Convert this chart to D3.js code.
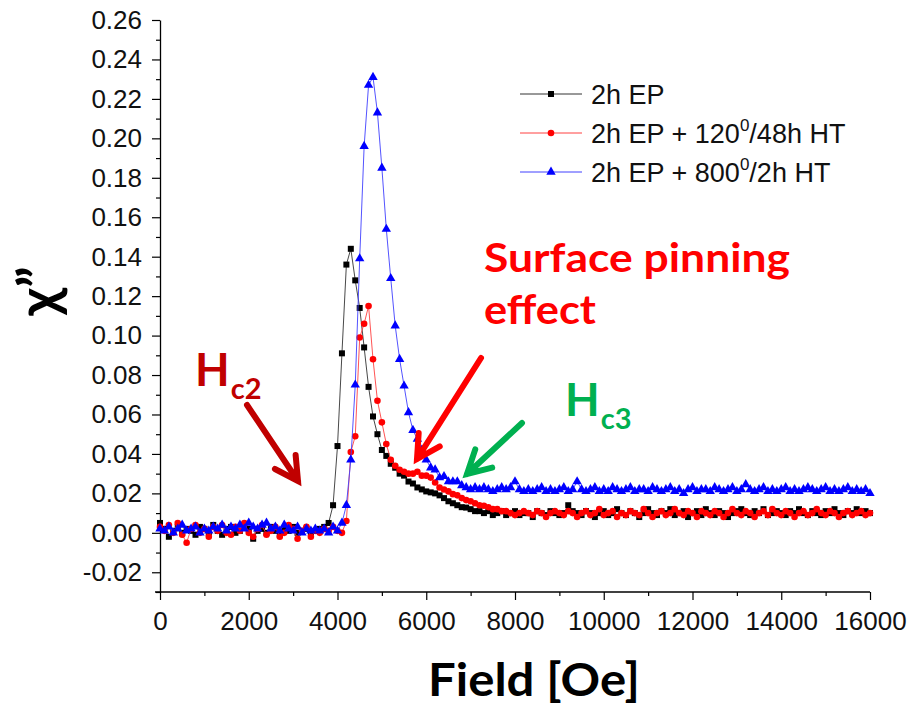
<!DOCTYPE html>
<html><head><meta charset="utf-8">
<script src="https://cdn.jsdelivr.net/npm/d3@7"></script>
<style>body{margin:0;background:#fff;} svg{display:block;}</style>
</head><body>
<svg id="c" width="922" height="708"></svg>
<script>
// ---------- DATA ----------
const fields = d3.range(0, 16001, 100); // Field [Oe]
const seriesNames = ["2h EP", "2h EP + 120|0|/48h HT", "2h EP + 800|0|/2h HT"];
const ep = [
 0.005,0.002,-0.002,0.001,0.003,0.000,0.002,0.001,-0.001,0.003,
 0.002,0.000,0.004,0.001,-0.001,0.002,0.003,0.000,0.001,0.004,
 0.002,-0.003,0.001,0.002,0.000,0.003,0.001,-0.001,0.002,0.001,
 0.003,0.000,0.001,0.002,0.000,0.001,0.002,0.003,0.005,0.014,
 0.044,0.091,0.136,0.144,0.128,0.114,0.094,0.074,0.059,0.050,
 0.042,0.039,0.035,0.033,0.030,0.029,0.026,0.025,0.023,0.022,
 0.021,0.0205,0.020,0.019,0.0176,0.016,0.015,0.014,0.013,0.0128,
 0.012,0.011,0.011,0.010,0.011,0.009,0.010,0.011,0.009,0.010,
 0.011,0.009,0.010,0.010,0.008,0.011,0.010,0.009,0.011,0.010,
 0.009,0.010,0.014,0.011,0.010,0.009,0.011,0.010,0.008,0.010,
 0.011,0.009,0.010,0.012,0.010,0.009,0.011,0.010,0.008,0.010,
 0.012,0.010,0.009,0.011,0.010,0.012,0.009,0.010,0.011,0.008,
 0.010,0.011,0.009,0.012,0.010,0.009,0.011,0.010,0.008,0.010,
 0.011,0.012,0.010,0.009,0.011,0.010,0.012,0.009,0.010,0.011,
 0.010,0.009,0.011,0.010,0.012,0.010,0.009,0.011,0.010,0.009,
 0.011,0.010,0.012,0.010,0.009,0.011,0.010,0.012,0.010,0.011,
 0.010
];
const ep120 = [
 0.003,0.001,0.004,0.000,0.005,-0.001,-0.005,0.002,0.004,0.000,
 0.002,-0.002,0.003,0.001,0.004,0.000,-0.001,0.003,0.001,0.005,
 0.000,-0.002,0.002,0.004,-0.001,0.001,0.003,-0.002,0.000,0.004,
 0.002,-0.003,0.001,0.003,-0.002,0.001,0.000,0.002,0.001,0.003,
 0.001,0.000,0.006,0.041,0.049,0.099,0.106,0.115,0.088,0.067,
 0.056,0.045,0.037,0.034,0.032,0.031,0.030,0.030,0.031,0.029,
 0.029,0.028,0.0255,0.023,0.022,0.021,0.0196,0.019,0.0176,0.0166,
 0.016,0.015,0.014,0.0137,0.013,0.012,0.012,0.011,0.011,0.010,
 0.009,0.010,0.011,0.010,0.009,0.011,0.010,0.008,0.010,0.011,
 0.010,0.009,0.011,0.010,0.008,0.010,0.011,0.009,0.010,0.012,
 0.009,0.010,0.011,0.008,0.010,0.009,0.011,0.010,0.009,0.012,
 0.010,0.008,0.010,0.011,0.009,0.010,0.012,0.010,0.009,0.011,
 0.010,0.008,0.011,0.010,0.009,0.011,0.010,0.008,0.010,0.012,
 0.010,0.009,0.011,0.010,0.008,0.010,0.011,0.009,0.012,0.010,
 0.009,0.011,0.010,0.008,0.010,0.011,0.009,0.010,0.012,0.010,
 0.009,0.011,0.010,0.008,0.010,0.011,0.009,0.010,0.011,0.009,
 0.010
];
const ep800 = [
 0.002,0.001,0.003,0.000,0.002,0.004,0.001,0.002,0.003,0.000,
 0.002,0.001,0.003,0.002,0.004,0.001,0.003,0.002,0.004,0.002,
 0.005,0.003,0.002,0.004,0.005,0.002,0.003,0.001,0.004,0.002,
 0.001,0.003,0.000,0.002,0.001,0.002,0.001,0.002,0.000,0.003,
 0.001,0.005,0.014,0.037,0.075,0.139,0.196,0.227,0.231,0.213,
 0.185,0.154,0.129,0.105,0.088,0.0745,0.061,0.052,0.0475,0.042,
 0.037,0.033,0.032,0.028,0.0286,0.026,0.026,0.026,0.024,0.023,
 0.022,0.023,0.022,0.023,0.022,0.021,0.022,0.023,0.022,0.023,
 0.026,0.022,0.021,0.022,0.021,0.022,0.023,0.021,0.022,0.021,
 0.022,0.023,0.021,0.022,0.026,0.022,0.021,0.022,0.023,0.021,
 0.022,0.021,0.023,0.022,0.021,0.022,0.023,0.021,0.022,0.022,
 0.021,0.023,0.022,0.021,0.022,0.023,0.021,0.022,0.020,0.022,
 0.023,0.021,0.022,0.022,0.021,0.023,0.022,0.021,0.022,0.023,
 0.021,0.022,0.0245,0.022,0.021,0.022,0.023,0.021,0.022,0.021,
 0.022,0.023,0.021,0.022,0.021,0.022,0.023,0.022,0.021,0.022,
 0.023,0.021,0.022,0.021,0.022,0.023,0.021,0.022,0.021,0.022,
 0.020
];
const xMajorTicks = [0,2000,4000,6000,8000,10000,12000,14000,16000];
const yMajorTicks = [-0.02,0.00,0.02,0.04,0.06,0.08,0.10,0.12,0.14,0.16,0.18,0.20,0.22,0.24,0.26];

// ---------- CHART ----------
const svg = d3.select("#c");
const x = d3.scaleLinear().domain([0,16000]).range([160,870]);
const y = d3.scaleLinear().domain([-0.03,0.26]).range([592,20]);
const tickFont = "'Liberation Sans', Arial, sans-serif";
const fmt = d => d3.format(".2f")(d).replace("\u2212","-");

// y axis minor
svg.append("g").attr("transform","translate(160,0)")
  .call(d3.axisLeft(y).tickValues(d3.range(-3,27,2).map(v=>v/100)).tickSize(4).tickFormat(""))
  .call(g=>g.select(".domain").remove())
  .selectAll("line").attr("stroke","#000").attr("stroke-width",1.2);
// y axis major
const gy = svg.append("g").attr("transform","translate(160,0)")
  .call(d3.axisLeft(y).tickValues(yMajorTicks).tickSize(8).tickSizeOuter(0).tickFormat(fmt).tickPadding(10));
gy.select(".domain").attr("stroke","#000").attr("stroke-width",1.3);
gy.selectAll("line").attr("stroke","#000").attr("stroke-width",1.2);
gy.selectAll("text").attr("font-family",tickFont).attr("font-size",26).attr("fill","#111");

// x axis minor
svg.append("g").attr("transform","translate(0,592)")
  .call(d3.axisBottom(x).tickValues(d3.range(1000,16000,2000)).tickSize(4).tickFormat(""))
  .call(g=>g.select(".domain").remove())
  .selectAll("line").attr("stroke","#000").attr("stroke-width",1.2);
const gx = svg.append("g").attr("transform","translate(0,592)")
  .call(d3.axisBottom(x).tickValues(xMajorTicks).tickSize(8).tickSizeOuter(0).tickFormat(d3.format("d")).tickPadding(12));
gx.select(".domain").attr("stroke","#000").attr("stroke-width",1.3).attr("d","M155,0H870");
gx.selectAll("line").attr("stroke","#000").attr("stroke-width",1.2);
gx.selectAll("text").attr("font-family",tickFont).attr("font-size",26).attr("fill","#111");

// series
const series = [
  {name:seriesNames[0], vals:ep, color:"#000000", line:"#333", shape:"square"},
  {name:seriesNames[1], vals:ep120, color:"#ff0000", line:"#ff4040", shape:"circle"},
  {name:seriesNames[2], vals:ep800, color:"#0000ff", line:"#4040ff", shape:"triangle"}
];
const lineGen = d3.line().x((d,i)=>x(fields[i])).y(d=>y(d));
function marker(sel, shape, color){
  if(shape==="square"){
    sel.append("rect").attr("x",-3).attr("y",-3).attr("width",6).attr("height",6).attr("fill",color);
  } else if(shape==="circle"){
    sel.append("circle").attr("r",3.3).attr("fill",color);
  } else {
    sel.append("path").attr("d",d3.symbol(d3.symbolTriangle,38)()).attr("fill",color);
  }
}
series.forEach(s=>{
  const g = svg.append("g");
  g.append("path").attr("d",lineGen(s.vals)).attr("fill","none").attr("stroke",s.line).attr("stroke-width",0.9);
  g.selectAll("g.m").data(s.vals).enter().append("g").attr("class","m")
    .attr("transform",(d,i)=>`translate(${x(fields[i])},${y(d)})`)
    .each(function(){ marker(d3.select(this), s.shape, s.color); });
});

// legend
const legY = [94,133,172];
series.forEach((s,i)=>{
  const g = svg.append("g").attr("transform",`translate(0,${legY[i]})`);
  g.append("line").attr("x1",520).attr("x2",582).attr("y1",0).attr("y2",0).attr("stroke",s.line).attr("stroke-width",1);
  const m = g.append("g").attr("transform","translate(551,0)");
  marker(m, s.shape, s.color);
  const parts = s.name.split("|");
  const t = g.append("text").attr("x",591).attr("y",10).attr("font-family",tickFont).attr("font-size",27).attr("fill","#111");
  t.append("tspan").text(parts[0]);
  if(parts.length>1){
    t.append("tspan").attr("font-size",17).attr("dy",-12).text(parts[1]);
    t.append("tspan").attr("dy",12).text(parts[2]);
  }
});

// axis titles
const titleFont = "Lato, 'Open Sans', sans-serif";
svg.append("text").attr("transform","translate(58,291) rotate(-90)").attr("text-anchor","middle")
  .attr("font-family",titleFont).attr("font-weight","bold").attr("font-size",56).attr("fill","#000").text("\u03C7\u201D");
svg.append("text").attr("x",428).attr("y",696).attr("font-family",titleFont).attr("font-weight","bold")
  .attr("font-size",46).attr("fill","#000").attr("textLength",212).attr("lengthAdjust","spacingAndGlyphs").text("Field [Oe]");

// annotations
svg.append("text").attr("x",484).attr("y",272).attr("font-family",titleFont).attr("font-weight","bold")
  .attr("font-size",40).attr("fill","#ff0000").attr("textLength",306).attr("lengthAdjust","spacingAndGlyphs").text("Surface pinning");
svg.append("text").attr("x",484).attr("y",324).attr("font-family",titleFont).attr("font-weight","bold")
  .attr("font-size",40).attr("fill","#ff0000").attr("textLength",112).attr("lengthAdjust","spacingAndGlyphs").text("effect");

function hlabel(xp, yp, sub, color){
  const t = svg.append("text").attr("x",xp).attr("y",yp).attr("font-family",titleFont).attr("font-weight","bold").attr("fill",color);
  t.append("tspan").attr("font-size",45).text("H");
  t.append("tspan").attr("font-size",29).attr("dy",13).attr("dx",1).text(sub);
}
hlabel(195,386,"c2","#c00000");
hlabel(565,416,"c3","#00b050");

function arrow(x1,y1,x2,y2,color){
  const ang = Math.atan2(y2-y1,x2-x1), L=26, a=0.5;
  const p1=[x2-L*Math.cos(ang-a), y2-L*Math.sin(ang-a)];
  const p2=[x2-L*Math.cos(ang+a), y2-L*Math.sin(ang+a)];
  svg.append("path").attr("d",`M${x1},${y1}L${x2},${y2}M${p1}L${x2},${y2}L${p2}`)
    .attr("fill","none").attr("stroke",color).attr("stroke-width",6).attr("stroke-linecap","round").attr("stroke-linejoin","miter");
}
arrow(247,405,298,481,"#c00000");
arrow(481,358,417,459,"#ff0000");
arrow(522,423,467,474,"#00b050");
</script>
</body></html>
